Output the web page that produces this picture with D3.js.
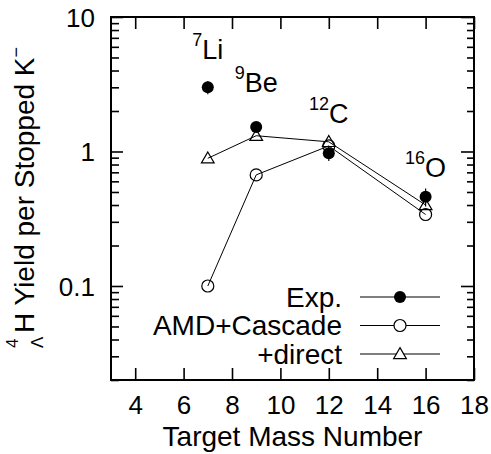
<!DOCTYPE html>
<html>
<head>
<meta charset="utf-8">
<script src="https://cdn.jsdelivr.net/npm/d3@7"></script>
<style>
  html, body { margin: 0; padding: 0; background: #fff; }
  svg { display: block; font-family: "Liberation Sans", Arial, Helvetica, sans-serif; }
</style>
</head>
<body>
<svg id="chart" width="491" height="454"></svg>
<script>
// Target mass numbers
const targets = [7, 9, 12, 16];
// Hypertriton-4 yields per stopped K-
const expYield = [3.0, 1.52, 0.97, 0.46];
const expErr = [0.33, 0.1, 0.12, 0.07];
const cascadeYield = [0.1, 0.67, 1.1, 0.34];
const directYield = [0.89, 1.31, 1.18, 0.40];
// Target nucleus labels
const nucleusMass = ["7", "9", "12", "16"];
const nucleusName = ["Li", "Be", "C", "O"];
const nucleusLabelY = [4.86, 2.77, 1.63, 0.65];
// Axis ticks
const xTicks = [4, 6, 8, 10, 12, 14, 16, 18];
const yMajor = [0.1, 1, 10];
const yMinor = [0.02, 0.03, 0.04, 0.05, 0.06, 0.07, 0.08, 0.09,
                0.2, 0.3, 0.4, 0.5, 0.6, 0.7, 0.8, 0.9,
                2, 3, 4, 5, 6, 7, 8, 9];
const legendLabels = ["Exp.", "AMD+Cascade", "+direct"];

const svg = d3.select("#chart");
const plotL = 111, plotR = 474, plotT = 17, plotB = 380;

const x = d3.scaleLinear().domain([3, 18]).range([plotL, plotR]);
const y = d3.scaleLog().domain([0.02, 10]).range([plotB, plotT]);

const tickFont = 26, titleFont = 28;

// Axes with inward ticks
svg.append("g").attr("transform", `translate(0,${plotB})`)
  .call(d3.axisBottom(x).tickValues(xTicks).tickFormat(d3.format("d"))
    .tickSize(-12).tickPadding(16));
svg.append("g").attr("transform", `translate(0,${plotT})`)
  .call(d3.axisTop(x).tickValues(xTicks).tickFormat("").tickSize(-12));
const gy = svg.append("g").attr("transform", `translate(${plotL},0)`)
  .call(d3.axisLeft(y).tickValues(yMajor).tickFormat(d => d3.format("~g")(d))
    .tickSize(-12).tickPadding(16));
svg.append("g").attr("transform", `translate(${plotL},0)`)
  .call(d3.axisLeft(y).tickValues(yMinor).tickFormat("").tickSize(-8));
svg.append("g").attr("transform", `translate(${plotR},0)`)
  .call(d3.axisRight(y).tickValues(yMajor).tickFormat("").tickSize(-13));
svg.append("g").attr("transform", `translate(${plotR},0)`)
  .call(d3.axisRight(y).tickValues(yMinor).tickFormat("").tickSize(-7));

svg.selectAll(".domain").remove();
svg.selectAll(".tick line").attr("stroke", "#000").attr("stroke-width", 1.6);
svg.selectAll(".tick text").attr("fill", "#000")
  .style("font-size", tickFont + "px")
  .style("font-family", '"Liberation Sans", Arial, Helvetica, sans-serif');
gy.selectAll(".tick text").attr("dy", "0.35em");

// Frame
svg.append("rect")
  .attr("x", plotL).attr("y", plotT)
  .attr("width", plotR - plotL).attr("height", plotB - plotT)
  .attr("fill", "none").attr("stroke", "#000").attr("stroke-width", 2);

// Axis titles
svg.append("text")
  .attr("x", (plotL + plotR) / 2).attr("y", 446)
  .attr("text-anchor", "middle")
  .style("font-size", titleFont + "px")
  .text("Target Mass Number");

const yl = svg.append("g").attr("transform", "rotate(-90)");
yl.append("text").attr("x", -348).attr("y", 18)
  .style("font-size", "17px").text("4");
yl.append("text").attr("x", -348).attr("y", 43)
  .style("font-size", "17px").text("Λ");
const ylt = yl.append("text").attr("x", -333).attr("y", 34)
  .style("font-size", titleFont + "px");
ylt.append("tspan").text("H Yield per Stopped K");
ylt.append("tspan").attr("dy", -12).style("font-size", "18px").text("−");

// Connecting lines for the calculations
const line = d3.line().x(d => x(d[0])).y(d => y(d[1]));
const cascadePts = targets.map((t, i) => [t, cascadeYield[i]]);
const directPts = targets.map((t, i) => [t, directYield[i]]);

svg.append("path").datum(cascadePts).attr("d", line)
  .attr("fill", "none").attr("stroke", "#000").attr("stroke-width", 1);
svg.append("path").datum(directPts).attr("d", line)
  .attr("fill", "none").attr("stroke", "#000").attr("stroke-width", 1);

const triangle = d3.symbol().type(d3.symbolTriangle).size(70);

// Calculation markers
svg.selectAll(".cas").data(cascadePts).enter().append("circle")
  .attr("cx", d => x(d[0])).attr("cy", d => y(d[1])).attr("r", 6)
  .attr("fill", "none").attr("stroke", "#000").attr("stroke-width", 1.2);
svg.selectAll(".dir").data(directPts).enter().append("path")
  .attr("d", triangle)
  .attr("transform", d => `translate(${x(d[0])},${y(d[1]) + 1})`)
  .attr("fill", "none").attr("stroke", "#000").attr("stroke-width", 1.2);

// Experimental points with error bars
const expPts = targets.map((t, i) => ({ a: t, v: expYield[i], e: expErr[i] }));
svg.selectAll(".err").data(expPts).enter().append("line")
  .attr("x1", d => x(d.a)).attr("x2", d => x(d.a))
  .attr("y1", d => y(d.v + d.e)).attr("y2", d => y(d.v - d.e))
  .attr("stroke", "#000").attr("stroke-width", 1.2);
svg.selectAll(".exp").data(expPts).enter().append("circle")
  .attr("cx", d => x(d.a)).attr("cy", d => y(d.v)).attr("r", 6)
  .attr("fill", "#000");

// Nucleus labels
targets.forEach((t, i) => {
  const tx = svg.append("text")
    .attr("x", x(t)).attr("y", y(nucleusLabelY[i]))
    .attr("text-anchor", "middle")
    .style("font-size", "27px");
  tx.append("tspan").attr("dy", -13).style("font-size", "18px").text(nucleusMass[i]);
  tx.append("tspan").attr("dy", 13).text(nucleusName[i]);
});

// Legend
const legY = [297, 325.5, 354];
const leg = svg.append("g");
legendLabels.forEach((lab, i) => {
  leg.append("text").attr("x", 342).attr("y", legY[i] + 9.5)
    .attr("text-anchor", "end").style("font-size", titleFont + "px").text(lab);
  leg.append("line").attr("x1", 360).attr("x2", 440)
    .attr("y1", legY[i]).attr("y2", legY[i])
    .attr("stroke", "#000").attr("stroke-width", 1.2);
});
leg.append("circle").attr("cx", 400).attr("cy", legY[0]).attr("r", 6).attr("fill", "#000");
leg.append("circle").attr("cx", 400).attr("cy", legY[1]).attr("r", 6)
  .attr("fill", "#fff").attr("stroke", "#000").attr("stroke-width", 1.2);
leg.append("path").attr("d", triangle)
  .attr("transform", `translate(400,${legY[2] + 1})`)
  .attr("fill", "#fff").attr("stroke", "#000").attr("stroke-width", 1.2);
</script>
</body>
</html>
